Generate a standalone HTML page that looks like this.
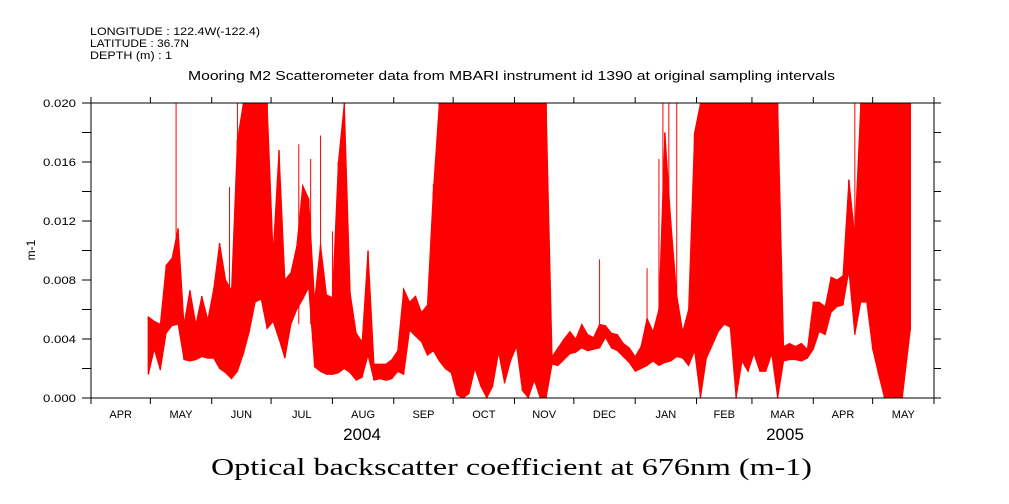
<!DOCTYPE html>
<html><head><meta charset="utf-8"><style>
body{margin:0;background:#fff;}
svg{display:block;}
text{font-family:"Liberation Sans",sans-serif;fill:#000;}
</style></head><body>
<svg id="chart" width="1009" height="504" viewBox="0 0 1009 504" xmlns="http://www.w3.org/2000/svg">
<rect width="1009" height="504" fill="#fff"/>
<text x="90" y="35" font-size="11" textLength="170" lengthAdjust="spacingAndGlyphs">LONGITUDE : 122.4W(-122.4)</text>
<text x="90" y="47" font-size="11" textLength="99" lengthAdjust="spacingAndGlyphs">LATITUDE : 36.7N</text>
<text x="90" y="59" font-size="11" textLength="82" lengthAdjust="spacingAndGlyphs">DEPTH (m) : 1</text>
<text x="188" y="80" font-size="13" textLength="647" lengthAdjust="spacingAndGlyphs">Mooring M2 Scatterometer data from MBARI instrument id 1390 at original sampling intervals</text>
<text transform="translate(35,250) rotate(-90)" font-size="12" text-anchor="middle">m-1</text>
<text x="211" y="475" font-size="24" textLength="601" lengthAdjust="spacingAndGlyphs" style="font-family:'Liberation Serif',serif">Optical backscatter coefficient at 676nm (m-1)</text>
<g id="series"></g>
<g id="axes"></g>
</svg>
<script>
const days=[29,32,35,38,41,44,47,50,53,56,59,62,65,68,71,74,77,80,83,86,89,92,95,98,101,104,107,110,113,116,119,122,125,128,131,134,137,140,143,146,149,152,155,158,161,164,167,170,173,176,179,182,185,188,191,194,197,200,203,206,209,212,215,218,221,224,227,230,233,236,239,242,245,248,251,254,257,260,263,266,269,272,275,278,281,284,287,290,293,296,299,302,305,308,311,314,317,320,323,326,329,332,335,338,341,344,347,350,353,356,359,362,365,368,371,374,377,380,383,386,389,392,395,398,401,404,407,410,414];
const lows=[1.6,3.3,1.9,4.4,4.9,5,2.6,2.5,2.6,2.8,2.7,2.7,2.0,1.7,1.3,1.8,3.0,4.5,6.5,6.7,4.7,5.2,4.0,2.7,5,6,6.7,7.5,2.1,1.8,1.6,1.6,1.7,2.0,1.7,1.2,1.4,2.9,1.2,1.3,1.2,1.3,1.8,1.6,4.6,4.2,3.8,2.9,3.2,2.5,2.0,1.7,0.2,0,0.3,2.0,0.8,0,0.8,3.1,1.0,2.5,3.5,0.5,0,1.2,0,0,2.3,2.2,2.6,3,3.1,3.4,3.2,3.3,3.4,4.1,3.4,3.2,2.8,2.4,1.8,2.0,2.2,2.5,2.2,2.4,2.5,2.8,2.7,2.2,3.2,0,2.7,3.6,4.5,5,4.8,0,2.5,1.8,3,1.8,1.8,3.0,0,2.5,2.6,2.6,2.5,2.7,3.3,4.5,4.3,5.8,6.2,6.3,8.6,4.3,6.5,6.5,3.3,1.6,0,0,0,0,4.6];
const highs=[5.5,5.2,5.0,9.0,9.5,11.5,5.0,7.3,5,6.9,5.3,7.4,10.5,8.0,7.3,17.5,20,20,20,20,20,9.8,16.8,8.0,8.5,10.3,14.4,13.5,6.6,10.4,7.0,6.8,16,20,7.1,4.4,3.8,10,2.3,2.3,2.3,2.6,3.2,7.4,6.5,6.9,5.8,6.3,14,20,20,20,20,20,20,20,20,20,20,20,20,20,20,20,20,20,20,20,2.8,3.4,4.0,4.5,4.0,5.0,4.3,4.1,5.0,4.9,4.4,4.3,3.7,3.4,2.8,3.5,5.4,4.5,6.0,18,12,7,4.5,6.0,18,20,20,20,20,20,20,20,20,20,20,20,20,20,20,3.5,3.7,3.5,3.7,3.3,6.5,6.5,6.2,8.2,8.0,8.3,14.8,11,20,20,20,20,20,20,20,20,20];
const spikeDays=[43,70,74,105,111,116,122,173,257,281,287,289,292,296,386];
const spikeVals=[20,14.3,20,17.2,16.2,17.8,11.3,14.5,9.4,8.8,16.2,20,20,20,20];
const yTicks=[0,0.004,0.008,0.012,0.016,0.020];
const months=["APR","MAY","JUN","JUL","AUG","SEP","OCT","NOV","DEC","JAN","FEB","MAR","APR","MAY"];
const monthLens=[30,31,30,31,31,30,31,30,31,31,28,31,30,31];
const years=["2004","2005"];

const X0=91,X1=934,Y0=398,Y1=103,TOT=426;
const xs=d=>X0+d*(X1-X0)/TOT;
const ys=v=>Y0-(v/1000)/0.02*(Y0-Y1);
const NS="http://www.w3.org/2000/svg";
function mk(tag,attrs,parent){const e=document.createElementNS(NS,tag);for(const k in attrs)e.setAttribute(k,attrs[k]);parent.appendChild(e);return e;}
const S=document.getElementById('series'),A=document.getElementById('axes');
let up=[],dn=[];
for(let i=0;i<days.length;i++){up.push(xs(days[i]).toFixed(1)+','+ys(highs[i]).toFixed(1));}
for(let i=days.length-1;i>=0;i--){dn.push(xs(days[i]).toFixed(1)+','+Math.max(ys(lows[i]),ys(highs[i])+1.5).toFixed(1));}
const band=mk('polygon',{points:up.concat(dn).join(' '),fill:'#ff0000',stroke:'#ff0000','stroke-width':1},S);


for(let i=0;i<days.length;i++){
 const l=mk('line',{x1:xs(days[i]),x2:xs(days[i]),y1:ys(highs[i]),y2:ys(lows[i]),stroke:'#ff0000','stroke-width':1.5},S);
 
 
}
for(let i=0;i<spikeDays.length;i++){
 const l=mk('line',{x1:xs(spikeDays[i]),x2:xs(spikeDays[i]),y1:ys(spikeVals[i]),y2:ys(5),stroke:'#ff0000','stroke-width':1},S);
 
 
}
const fr=mk('rect',{x:X0,y:Y1,width:X1-X0,height:Y0-Y1,fill:'none',stroke:'#000','stroke-width':1},A);


for(let v=0;v<=0.0201;v+=0.002){
 const y=Y0-v/0.02*(Y0-Y1);
 mk('line',{x1:X0-9,x2:X0,y1:y,y2:y,stroke:'#000'},A);
 mk('line',{x1:X1,x2:X1+7,y1:y,y2:y,stroke:'#000'},A);
}
for(const v of yTicks){
 const t=mk('text',{x:X0-48,y:Y0-v/0.02*(Y0-Y1)+4,'font-size':11,textLength:33,lengthAdjust:'spacingAndGlyphs'},A);
 t.textContent=v.toFixed(3);
 
 
}
let d=0;
for(let i=0;i<=months.length;i++){
 const x=xs(d);
 mk('line',{x1:x,x2:x,y1:Y0,y2:Y0+6,stroke:'#000'},A);
 mk('line',{x1:x,x2:x,y1:Y1,y2:Y1-6,stroke:'#000'},A);
 if(i<months.length){
  const t=mk('text',{x:xs(d+monthLens[i]/2),y:418,'font-size':11,'text-anchor':'middle'},A);
  t.textContent=months[i];
  
  
  d+=monthLens[i];
 }
}
const yx=[362,785];
for(let i=0;i<years.length;i++){
 const t=mk('text',{x:yx[i],y:440,'font-size':17,'text-anchor':'middle'},A);
 t.textContent=years[i];
 
 
}
</script>
</body></html>
